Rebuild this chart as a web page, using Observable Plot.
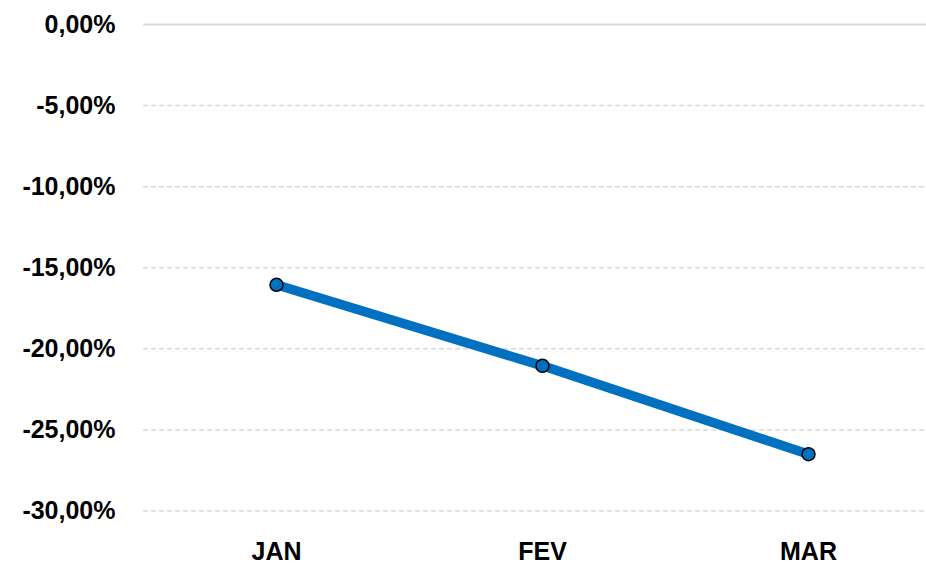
<!DOCTYPE html>
<html>
<head>
<meta charset="utf-8">
<script src="https://cdn.jsdelivr.net/npm/d3@7"></script>
<script src="https://cdn.jsdelivr.net/npm/@observablehq/plot@0.6"></script>
<style>
  html, body { margin: 0; padding: 0; background: #fff; }
  #chart svg { display: block; }
</style>
</head>
<body>
<div id="chart"></div>
<script>
const months = ["JAN", "FEV", "MAR"];
const values = [-16.05, -21.05, -26.5];
const yTicks = [0, -5, -10, -15, -20, -25, -30];

const data = months.map((m, i) => ({ month: m, value: values[i] }));
const fmt = d => d.toFixed(2).replace(".", ",") + "%";

const chart = Plot.plot({
  width: 926,
  height: 563,
  marginLeft: 143,
  marginRight: 0,
  marginTop: 24,
  marginBottom: 52.5,
  style: { fontFamily: "'Liberation Sans', Arial, sans-serif", background: "#fff", overflow: "visible" },
  x: { type: "point", domain: months, range: [275.5, 808], padding: 0, align: 0.5 },
  y: { domain: [-30, 0] },
  marks: [
    Plot.ruleY(yTicks.filter(d => d !== 0), { stroke: "#d9d9d9", strokeWidth: 1.5, strokeDasharray: "5,3" }),
    Plot.ruleY([0], { stroke: "#d9d9d9", strokeWidth: 1.8 }),
    Plot.axisY({ ticks: yTicks, tickFormat: fmt, tickSize: 0, tickPadding: 28, fontSize: 25, fontWeight: "bold", fill: "#000", label: null }),
    Plot.axisX({ tickSize: 0, tickPadding: 31, fontSize: 25, fontWeight: "bold", fill: "#000", label: null }),
    Plot.line(data, { x: "month", y: "value", stroke: "#0070c0", strokeWidth: 9.5, strokeLinecap: "round" }),
    Plot.dot(data, { x: "month", y: "value", r: 6.5, fill: "#0070c0", stroke: "#000", strokeWidth: 1.5 })
  ]
});
document.getElementById("chart").appendChild(chart);
</script>
</body>
</html>
